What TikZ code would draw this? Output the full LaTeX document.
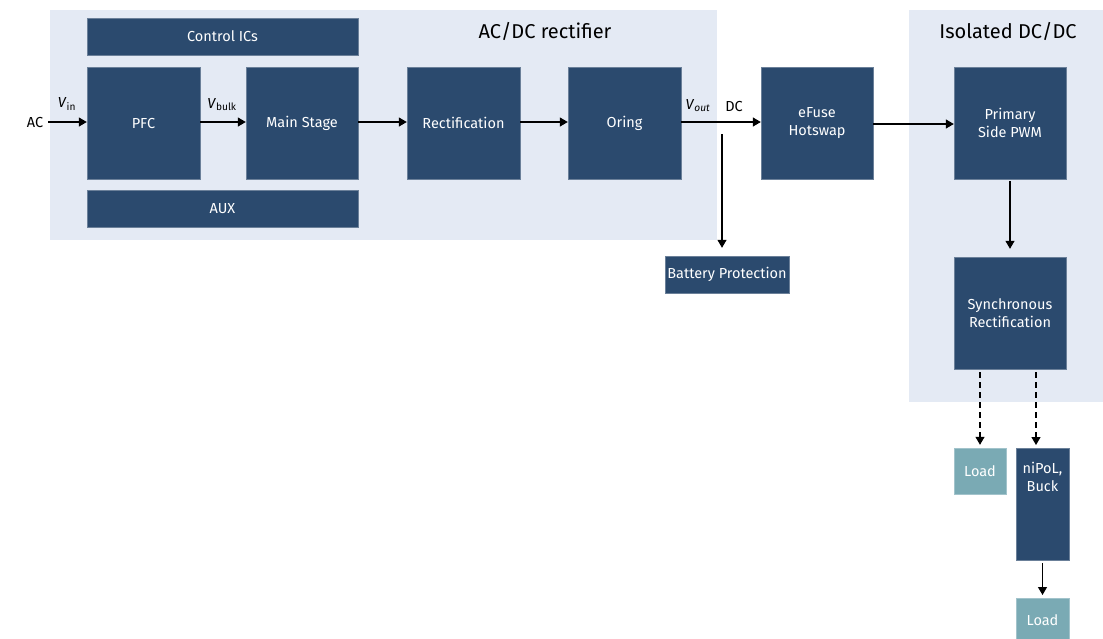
\documentclass[tikz,border=0pt]{standalone}
\usepackage{fontspec}
\setmainfont{Fira Sans}
\usetikzlibrary{arrows.meta,positioning}

\definecolor{blkblue}{HTML}{2B4A6E}
\definecolor{loadteal}{HTML}{7AAAB4}
\definecolor{areabg}{HTML}{E4EAF4}

\tikzset{
  blk/.style={fill=blkblue, draw=blkblue!70!white, text=white, inner sep=0pt,
    align=center, font=\fontsize{14.5}{18}\selectfont},
  loadblk/.style={blk, fill=loadteal, draw=loadteal!70!white},
  area/.style={fill=areabg},
  flow/.style={-{Triangle[width=9pt,length=8pt]}, line width=1.2pt},
  lbl/.style={font=\fontsize{14.5}{16}\selectfont, inner sep=1pt},
}

\begin{document}
\begin{tikzpicture}[x=1pt,y=-1pt]
\useasboundingbox (0,0) rectangle (1103,638);
\fill[area] (50,10) rectangle (717,240);
\fill[area] (909,10) rectangle (1103,402);
\node[font=\fontsize{20}{22}\selectfont] (acdc) at (545,31) {AC/DC rectifier};
\node[font=\fontsize{20}{22}\selectfont] (isodc) at (1008,31) {Isolated DC/DC};

\node[blk, minimum width=271pt, minimum height=37pt] (ctrl) at (222.5,36.5) {Control ICs};
\node[blk, minimum width=113pt, minimum height=112pt] (pfc) at (143.5,123) {PFC};
\node[blk, minimum width=112pt, minimum height=112pt] (main) at (302,123) {Main Stage};
\node[blk, minimum width=271pt, minimum height=37pt] (aux) at (222.5,208.5) {AUX};
\node[blk, minimum width=113pt, minimum height=112pt] (rect) at (463.5,123) {Rectification};
\node[blk, minimum width=113pt, minimum height=112pt] (oring) at (624.5,123) {Oring};
\node[blk, minimum width=112pt, minimum height=112pt] (efuse) at (817,123) {eFuse\\Hotswap};
\node[blk, minimum width=124pt, minimum height=37pt] (batt) at (727,274.5) {Battery Protection};
\node[blk, minimum width=112pt, minimum height=112pt] (pwm) at (1010,123) {Primary\\Side PWM};
\node[blk, minimum width=112pt, minimum height=112pt] (sync) at (1010,313) {Synchronous\\Rectification};
\node[loadblk, minimum width=52pt, minimum height=46pt] (loada) at (980,471) {Load};
\node[blk, minimum width=53pt, minimum height=112pt, anchor=north] (nipol) at (1042.5,448) {};
\node[text=white, align=center, font=\fontsize{14.5}{18}\selectfont, anchor=north, inner sep=0pt] (nipoltxt) at ([yshift=-14pt]nipol.north) {niPoL,\\Buck};
\node[loadblk, minimum width=53pt, minimum height=44pt, anchor=north] (loadb) at (1042.5,598) {Load};

\node[lbl] (ac) at (35,122) {AC};
\coordinate (acin) at (48,122);
\coordinate (tap) at (722,134);

% main power path
\draw[flow] (acin) -- (pfc.west |- acin);
\draw[flow] (pfc.east |- acin) -- (main.west |- acin);
\draw[flow] (main.east |- acin) -- (rect.west |- acin);
\draw[flow] (rect.east |- acin) -- (oring.west |- acin);
\draw[flow] (oring.east |- acin) -- (efuse.west |- acin);
\draw[flow] (efuse.east |- 0,124) -- (pwm.west |- 0,124);
\node[lbl, above] (vin) at (67,112) {\textit{V}\textsubscript{in}};
\node[lbl, above] (vbulk) at (222,112) {\textit{V}\textsubscript{bulk}};
\node[lbl, above] (vout) at (698,113) {\textit{V}\textsubscript{\textit{out}}};
\node[lbl, above] (dc) at (734,113) {DC};

% branches
\draw[flow] (tap) -- ([yshift=8pt]batt.north -| tap);
\draw[flow] ([yshift=-2pt]pwm.south) -- ([yshift=8pt]sync.north);
\draw[flow, dashed, dash pattern=on 6pt off 4pt] ([xshift=-30pt,yshift=-3pt]sync.south) -- ([yshift=3pt]loada.north);
\draw[flow, dashed, dash pattern=on 6pt off 4pt] ([xshift=26pt,yshift=-3pt]sync.south) -- ([xshift=-6.5pt,yshift=3pt]nipol.north);
\draw[flow] ([yshift=-3pt]nipol.south) -- ([yshift=3pt]loadb.north);
\end{tikzpicture}
\end{document}
